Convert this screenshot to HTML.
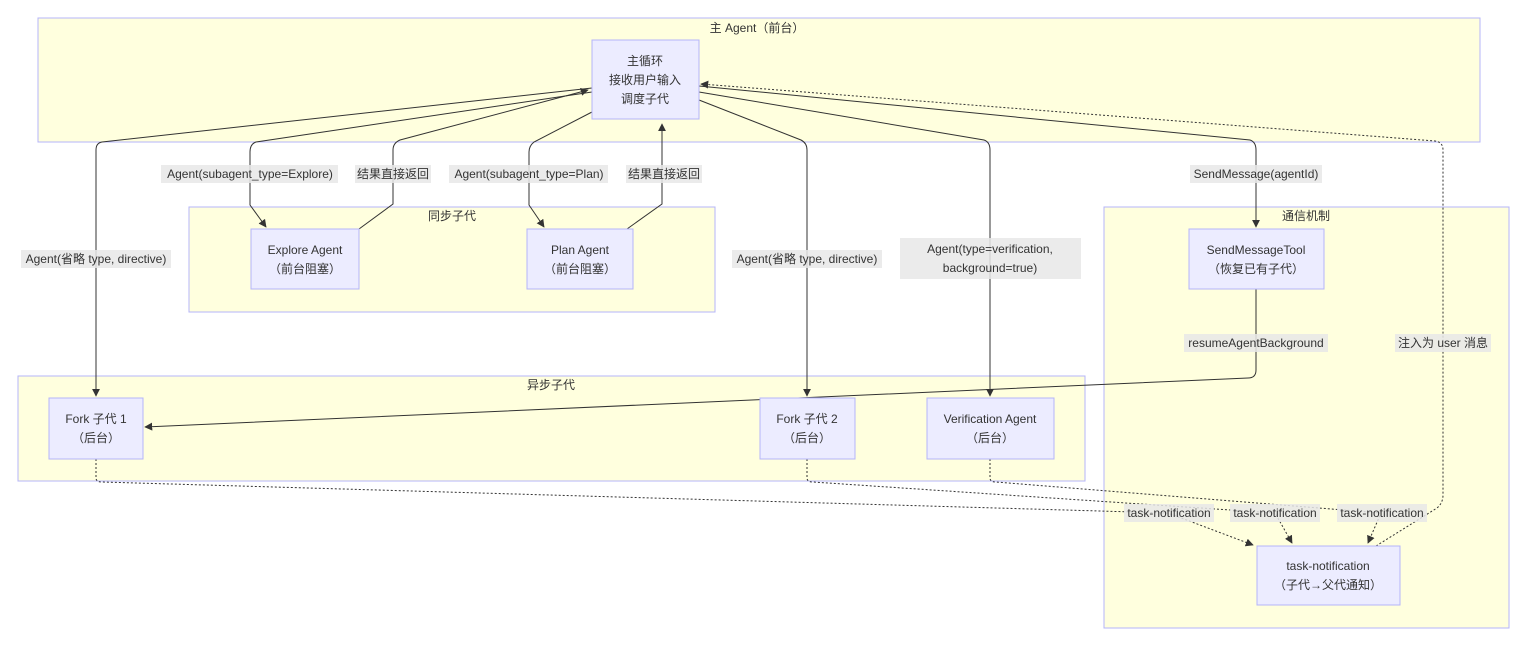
<!DOCTYPE html>
<html><head><meta charset="utf-8"><style>
html,body{margin:0;padding:0;background:#fff;}
svg{display:block;}
text{font-family:"Liberation Sans","Noto Sans CJK SC",sans-serif;font-size:12px;fill:#333;}
.cl{fill:#ffffde;stroke:#b4b4fa;stroke-width:1;}
.nd{fill:#ececff;stroke:#b4b4fa;stroke-width:1;}
.e{fill:none;stroke:#333;stroke-width:1;}
.d{fill:none;stroke:#333;stroke-width:1;stroke-dasharray:2,2;}
.lb{fill:rgba(232,232,232,0.85);}
</style></head><body>
<svg width="1531" height="645" viewBox="0 0 1531 645" xmlns="http://www.w3.org/2000/svg">
<defs><marker id="a" viewBox="0 0 10 10" refX="9" refY="5" markerWidth="8" markerHeight="8" orient="auto"><path d="M0,0L10,5L0,10z" fill="#333"/></marker></defs>
<!-- clusters -->
<rect class="cl" x="38" y="18" width="1442" height="124"/>
<text x="757" y="32" text-anchor="middle">主 Agent（前台）</text>
<rect class="cl" x="189" y="207" width="526" height="105"/>
<text x="452" y="220" text-anchor="middle">同步子代</text>
<rect class="cl" x="18" y="376" width="1067" height="105"/>
<text x="551" y="389" text-anchor="middle">异步子代</text>
<rect class="cl" x="1104" y="207" width="405" height="421"/>
<text x="1306" y="220" text-anchor="middle">通信机制</text>
<!-- edges -->
<path class="e" d="M592,88 L102,142 Q96,143 96,150 L96,396" marker-end="url(#a)"/>
<path class="e" d="M592,92 L256,142 Q250,144 250,152 L250,205 L266,227" marker-end="url(#a)"/>
<path class="e" d="M359,229 L393,204 L393,150 Q393,143 400,140 L588,90" marker-end="url(#a)"/>
<path class="e" d="M592,112 L534,142 Q529,146 529,152 L529,205 L544,227" marker-end="url(#a)"/>
<path class="e" d="M627,229 L662,204 L662,124" marker-end="url(#a)"/>
<path class="e" d="M699,100 L801,140 Q807,143 807,150 L807,396" marker-end="url(#a)"/>
<path class="e" d="M699,92 L984,140 Q990,142 990,150 L990,396" marker-end="url(#a)"/>
<path class="e" d="M699,86 L1250,140 Q1256,142 1256,150 L1256,227" marker-end="url(#a)"/>
<path class="e" d="M1256,289 L1256,370 Q1256,378 1248,378 L145,427" marker-end="url(#a)"/>
<path class="d" d="M96,459 L96,478 Q96,482 102,482 L1168,513 L1253,545" marker-end="url(#a)"/>
<path class="d" d="M807,459 L807,478 Q807,482 813,482 L1275,513 L1292,543" marker-end="url(#a)"/>
<path class="d" d="M990,459 L990,478 Q990,482 996,482 L1381,513 L1368,543" marker-end="url(#a)"/>
<path class="d" d="M1376,546 L1437,508 Q1443,503 1443,495 L1443,150 Q1443,142 1435,141 L701,84" marker-end="url(#a)"/>
<!-- edge labels -->
<rect class="lb" x="161" y="165" width="177" height="18"/><text x="250" y="178" text-anchor="middle">Agent(subagent_type=Explore)</text>
<rect class="lb" x="355" y="165" width="76" height="18"/><text x="393" y="178" text-anchor="middle">结果直接返回</text>
<rect class="lb" x="449" y="165" width="159" height="18"/><text x="529" y="178" text-anchor="middle">Agent(subagent_type=Plan)</text>
<rect class="lb" x="626" y="165" width="76" height="18"/><text x="664" y="178" text-anchor="middle">结果直接返回</text>
<rect class="lb" x="21" y="250" width="150" height="18"/><text x="96" y="263" text-anchor="middle">Agent(省略 type, directive)</text>
<rect class="lb" x="732" y="250" width="150" height="18"/><text x="807" y="263" text-anchor="middle">Agent(省略 type, directive)</text>
<rect class="lb" x="900" y="238" width="181" height="41"/><text x="990" y="253" text-anchor="middle">Agent(type=verification,</text><text x="990" y="272" text-anchor="middle">background=true)</text>
<rect class="lb" x="1190" y="165" width="132" height="18"/><text x="1256" y="178" text-anchor="middle">SendMessage(agentId)</text>
<rect class="lb" x="1184" y="334" width="144" height="18"/><text x="1256" y="347" text-anchor="middle">resumeAgentBackground</text>
<rect class="lb" x="1395" y="334" width="96" height="18"/><text x="1443" y="347" text-anchor="middle">注入为 user 消息</text>
<rect class="lb" x="1124" y="504" width="90" height="18"/><text x="1169" y="517" text-anchor="middle">task-notification</text>
<rect class="lb" x="1230" y="504" width="90" height="18"/><text x="1275" y="517" text-anchor="middle">task-notification</text>
<rect class="lb" x="1337" y="504" width="90" height="18"/><text x="1382" y="517" text-anchor="middle">task-notification</text>
<!-- nodes -->
<rect class="nd" x="592" y="40" width="107" height="79"/>
<text x="645" y="65" text-anchor="middle">主循环</text><text x="645" y="84" text-anchor="middle">接收用户输入</text><text x="645" y="103" text-anchor="middle">调度子代</text>
<rect class="nd" x="251" y="229" width="108" height="60"/>
<text x="305" y="254" text-anchor="middle">Explore Agent</text><text x="305" y="273" text-anchor="middle">（前台阻塞）</text>
<rect class="nd" x="527" y="229" width="106" height="60"/>
<text x="580" y="254" text-anchor="middle">Plan Agent</text><text x="580" y="273" text-anchor="middle">（前台阻塞）</text>
<rect class="nd" x="49" y="398" width="94" height="61"/>
<text x="96" y="423" text-anchor="middle">Fork 子代 1</text><text x="96" y="442" text-anchor="middle">（后台）</text>
<rect class="nd" x="760" y="398" width="95" height="61"/>
<text x="807" y="423" text-anchor="middle">Fork 子代 2</text><text x="807" y="442" text-anchor="middle">（后台）</text>
<rect class="nd" x="927" y="398" width="127" height="61"/>
<text x="990" y="423" text-anchor="middle">Verification Agent</text><text x="990" y="442" text-anchor="middle">（后台）</text>
<rect class="nd" x="1189" y="229" width="135" height="60"/>
<text x="1256" y="254" text-anchor="middle">SendMessageTool</text><text x="1256" y="273" text-anchor="middle">（恢复已有子代）</text>
<rect class="nd" x="1257" y="546" width="143" height="59"/>
<text x="1328" y="570" text-anchor="middle">task-notification</text><text x="1328" y="589" text-anchor="middle">（子代→父代通知）</text>
</svg>
</body></html>
